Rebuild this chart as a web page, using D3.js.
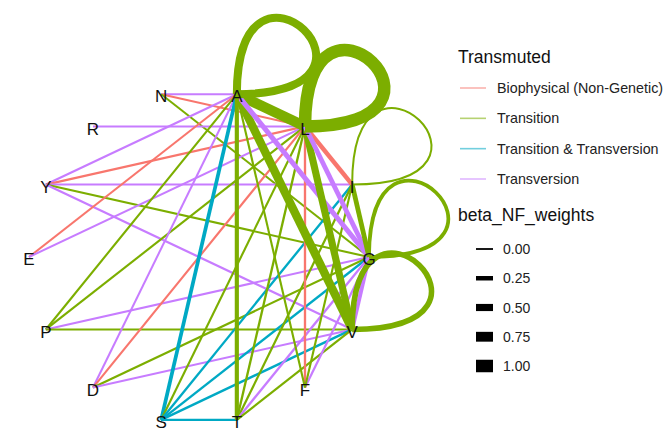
<!DOCTYPE html>
<html>
<head>
<meta charset="utf-8">
<script src="https://cdn.jsdelivr.net/npm/d3@7"></script>
<style>
  html, body { margin: 0; padding: 0; background: #ffffff; }
  svg { display: block; font-family: "Liberation Sans", Arial, sans-serif; }
</style>
</head>
<body>
<svg id="chart" width="670" height="433"></svg>
<script>
// Nodes in circular layout order (clockwise starting from the right)
const nodes = ["G", "V", "F", "T", "S", "D", "P", "E", "Y", "R", "N", "A", "L", "I"];

// Edge categories
const types = ["Biophysical (Non-Genetic)", "Transition", "Transition & Transversion", "Transversion"];
const typeColors = ["#F8766D", "#7CAE00", "#00A9C4", "#C77CFF"];

// Width legend breaks
const widthBreaks = [0.00, 0.25, 0.50, 0.75, 1.00];

// Edges: source, target, type index, beta_NF_weights
const edgeFrom   = ["N","N","N","R","Y","Y","Y","Y","Y","E","E","P","P","P","P","D","D","D","D","S","S","S","S","S","S","T","T","T","T","F","F","F","F","A","A","A","A","L","L","L","G","I"];
const edgeTo     = ["A","L","G","L","A","L","I","G","V","A","L","A","L","G","V","A","L","G","V","A","L","I","G","V","T","L","I","G","V","L","G","A","I","L","V","G","T","V","I","G","V","G"];
const edgeType   = [3,0,1,3,3,0,3,1,3,0,3,1,1,3,1,3,0,1,3,2,1,2,2,2,2,1,1,3,1,0,3,1,1,1,1,3,1,1,0,3,3,1];
const edgeWeight = [0.02,0.02,0.02,0.02,0.03,0.05,0.03,0.03,0.04,0.02,0.02,0.03,0.03,0.03,0.03,0.02,0.03,0.03,0.03,0.18,0.03,0.05,0.05,0.06,0.04,0.05,0.04,0.05,0.04,0.05,0.04,0.03,0.03,0.80,0.62,0.30,0.22,0.50,0.25,0.28,0.20,0.28];

// Self loops
const loopNode   = ["A", "L", "I", "G", "V"];
const loopType   = [1, 1, 1, 1, 1];
const loopWeight = [0.58, 1.00, 0.02, 0.18, 0.35];

const svg = d3.select("#chart");
const cx = 199, cy = 257, rx = 170, ry = 167;

const angle = d3.scalePoint().domain(nodes).range([0, 2 * Math.PI * (nodes.length - 1) / nodes.length]);
const pos = {};
nodes.forEach(n => {
  const a = angle(n);
  pos[n] = [cx + rx * Math.cos(a), cy + ry * Math.sin(a)];
});

const color = d3.scaleOrdinal().domain(d3.range(types.length)).range(typeColors);
const width = d3.scaleLinear().domain([0, 1]).range([1.8, 12.5]);

const gEdges = svg.append("g");

// straight edges
const edges = edgeFrom.map((f, i) => ({ f, t: edgeTo[i], type: edgeType[i], w: edgeWeight[i] }));
gEdges.selectAll("line.edge").data(edges).join("line")
  .attr("class", "edge")
  .attr("x1", d => pos[d.f][0]).attr("y1", d => pos[d.f][1])
  .attr("x2", d => pos[d.t][0]).attr("y2", d => pos[d.t][1])
  .attr("stroke", d => color(d.type))
  .attr("stroke-width", d => width(d.w))
  .attr("stroke-linecap", "butt");

// self loops: cubic curve with control points at 0 and 90 degrees from the node
const sx = rx * 1.05, sy = ry * 1.03;
const loops = loopNode.map((n, i) => ({ n, type: loopType[i], w: loopWeight[i] }));
gEdges.selectAll("path.loop").data(loops).join("path")
  .attr("class", "loop")
  .attr("d", d => {
    const [x, y] = pos[d.n];
    const p = d3.path();
    p.moveTo(x, y);
    p.bezierCurveTo(x + sx, y, x, y - sy, x, y);
    return p.toString();
  })
  .attr("fill", "none")
  .attr("stroke", d => color(d.type))
  .attr("stroke-width", d => width(d.w));

// node labels
svg.append("g").selectAll("text").data(nodes).join("text")
  .attr("x", d => pos[d][0]).attr("y", d => pos[d][1] + 2)
  .attr("text-anchor", "middle").attr("dy", "0.36em")
  .attr("font-size", 17).attr("fill", "#111")
  .text(d => d);

// legend: edge type
const lg = svg.append("g").attr("transform", "translate(458,0)");
lg.append("text").attr("x", 0).attr("y", 63).attr("font-size", 17.5).attr("fill", "#111").text("Transmuted");
const rowY = d3.scalePoint().domain(types).range([88, 179]);
types.forEach((t, i) => {
  lg.append("line").attr("x1", 2).attr("x2", 28).attr("y1", rowY(t)).attr("y2", rowY(t))
    .attr("stroke", typeColors[i]).attr("stroke-width", 1.6).attr("opacity", 0.55);
  lg.append("text").attr("x", 39).attr("y", rowY(t)).attr("dy", "0.36em")
    .attr("font-size", 14.3).attr("fill", "#222").text(t);
});

// legend: edge width
lg.append("text").attr("x", 0).attr("y", 221).attr("font-size", 17.5).attr("fill", "#111").text("beta_NF_weights");
const wY = d3.scalePoint().domain(widthBreaks).range([249, 366]);
widthBreaks.forEach(b => {
  const h = width(b);
  lg.append("rect").attr("x", 18).attr("y", wY(b) - h / 2).attr("width", 17).attr("height", h).attr("fill", "#000");
  lg.append("text").attr("x", 45).attr("y", wY(b)).attr("dy", "0.36em")
    .attr("font-size", 14).attr("fill", "#222").text(d3.format(".2f")(b));
});
</script>
</body>
</html>
